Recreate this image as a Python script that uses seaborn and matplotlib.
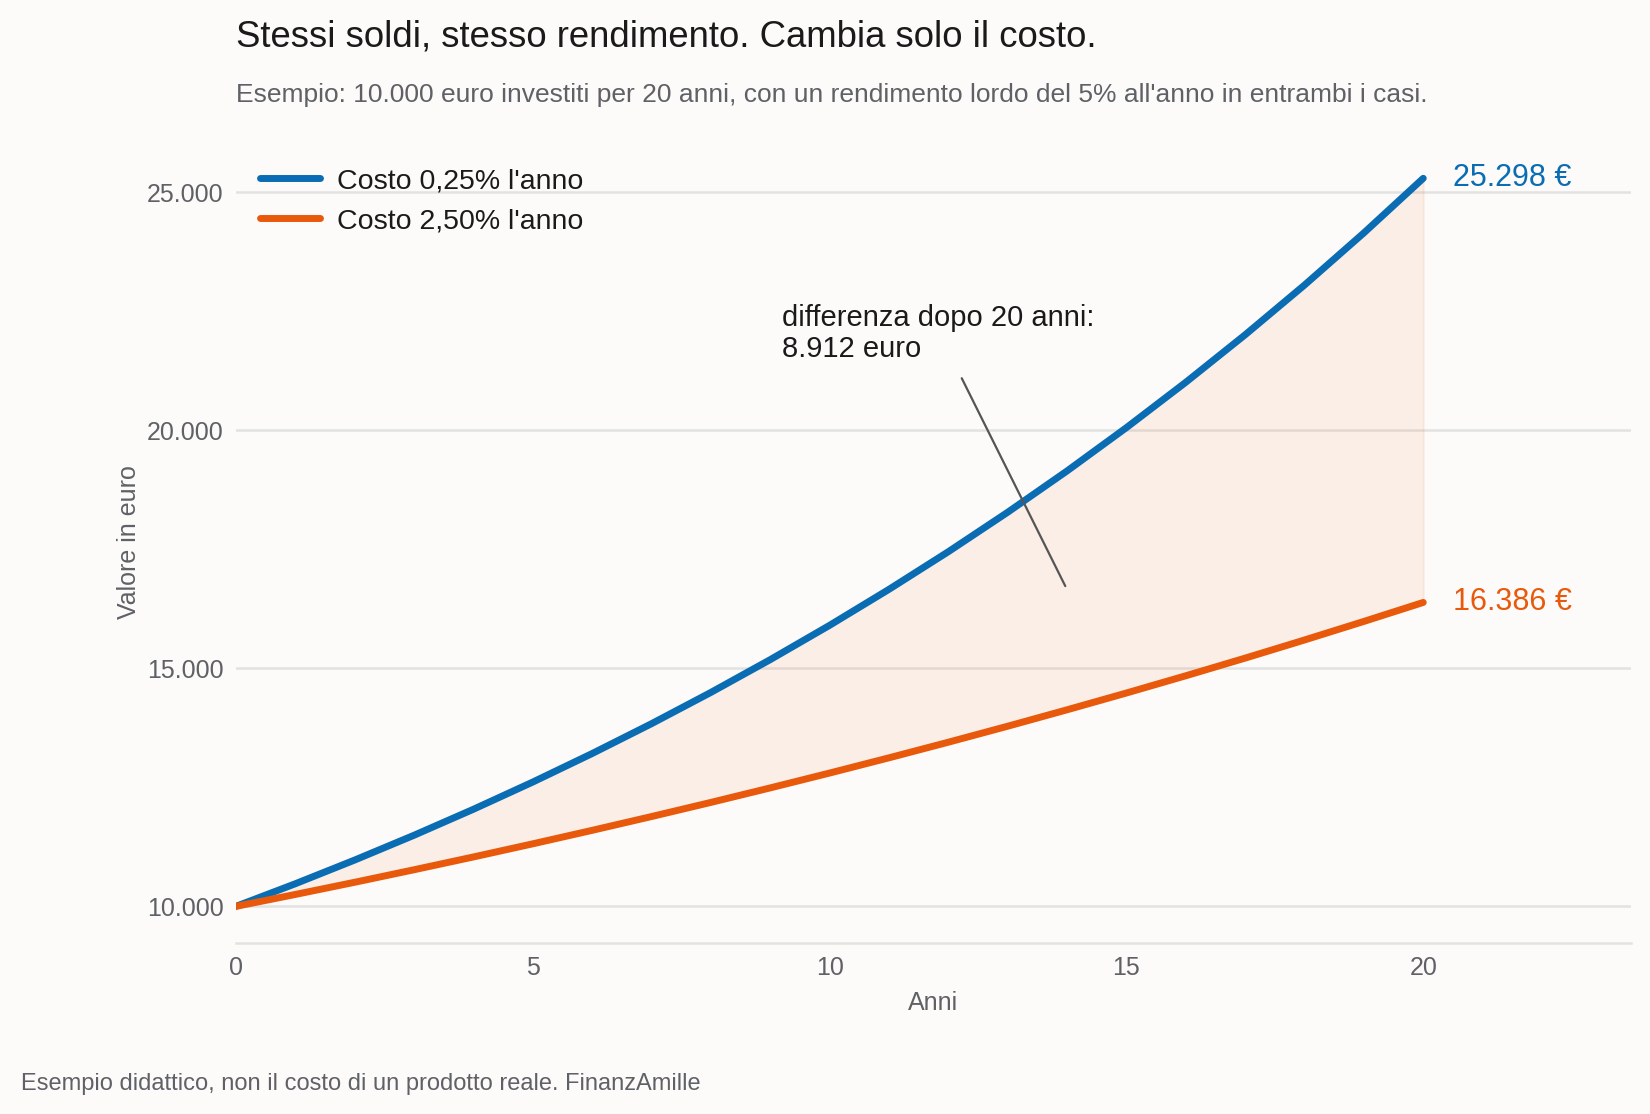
import numpy as np
import pandas as pd
import matplotlib
matplotlib.use("Agg")
import matplotlib.pyplot as plt
import seaborn as sns
from matplotlib.lines import Line2D
from matplotlib.ticker import FuncFormatter

# values (euro, end of each year)
anni = list(range(0, 21))
costo_basso = [10000, 10475, 10973, 11494, 12040, 12612, 13211, 13838, 14495, 15184,
               15905, 16661, 17452, 18281, 19149, 20059, 21012, 22010, 23055, 24151, 25298]
costo_alto = [10000, 10250, 10506, 10769, 11038, 11314, 11597, 11887, 12184, 12489,
              12801, 13121, 13449, 13785, 14130, 14483, 14845, 15216, 15597, 15987, 16386]
etichette = ["Costo 0,25% l'anno", "Costo 2,50% l'anno"]
y_ticks = [10000, 15000, 20000, 25000]
x_ticks = [0, 5, 10, 15, 20]

BG = "#fcfbf9"
BLUE = "#0a6db3"
ORANGE = "#e8590c"
GRID = "#e2e2e2"
TXT = "#1a1a1a"
MUTED = "#5f6166"

sns.set_theme(style="white")
plt.rcParams["font.family"] = ["Liberation Sans", "DejaVu Sans"]

df = pd.DataFrame({
    "Anni": anni * 2,
    "Valore": costo_basso + costo_alto,
    "Serie": [etichette[0]] * len(anni) + [etichette[1]] * len(anni),
})

fig = plt.figure(figsize=(16.5, 11.14), dpi=100, facecolor=BG)
ax = fig.add_axes([0.143, 0.1535, 0.8455, 0.719])
ax.set_facecolor(BG)

ax.fill_between(anni, costo_alto, costo_basso, color=ORANGE, alpha=0.08,
                linewidth=1.5, edgecolor=ORANGE)
sns.lineplot(data=df, x="Anni", y="Valore", hue="Serie",
             palette=[BLUE, ORANGE], linewidth=5, ax=ax, legend=False, zorder=3)

ax.set_xlim(0, 23.5)
ax.set_ylim(9230, 26060)
ax.set_xticks(x_ticks)
ax.set_yticks(y_ticks)
ax.yaxis.set_major_formatter(FuncFormatter(lambda v, p: f"{int(v):,}".replace(",", ".")))
ax.grid(axis="y", color=GRID, linewidth=1.8)
ax.grid(axis="x", visible=False)
for s in ["top", "right", "left"]:
    ax.spines[s].set_visible(False)
ax.spines["bottom"].set_color(GRID)
ax.spines["bottom"].set_linewidth(1.8)
ax.tick_params(axis="both", length=0, labelsize=18, labelcolor=MUTED, pad=9)
ax.set_xlabel("Anni", fontsize=18, color=MUTED, labelpad=8)
ax.set_ylabel("Valore in euro", fontsize=18, color=MUTED, labelpad=4)

# end labels
ax.text(20.5, costo_basso[-1], f"{costo_basso[-1]:,} €".replace(",", "."),
        color=BLUE, fontsize=22, va="center", ha="left")
ax.text(20.5, costo_alto[-1], f"{costo_alto[-1]:,} €".replace(",", "."),
        color=ORANGE, fontsize=22, va="center", ha="left")

# annotation
diff = costo_basso[-1] - costo_alto[-1]
ax.annotate(f"differenza dopo 20 anni:\n{diff:,} euro".replace(",", "."),
            xy=(13.97, 16730), xytext=(9.2, 22650),
            fontsize=21, color=TXT, va="top", ha="left", linespacing=1.1,
            arrowprops=dict(arrowstyle="-", color="#555555", lw=1.6,
                            shrinkA=10, shrinkB=0, relpos=(0.55, 0)))

handles = [Line2D([0], [0], color=BLUE, lw=5), Line2D([0], [0], color=ORANGE, lw=5)]
ax.legend(handles, etichette, loc="upper left", bbox_to_anchor=(-0.001, 0.9995),
          frameon=False, fontsize=20.5, handlelength=2.1, handletextpad=0.6,
          labelspacing=0.5, labelcolor=TXT)

fig.text(0.143, 0.967, "Stessi soldi, stesso rendimento. Cambia solo il costo.",
         fontsize=26.3, color=TXT, va="center", ha="left")
fig.text(0.143, 0.915,
         "Esempio: 10.000 euro investiti per 20 anni, con un rendimento lordo del 5% all'anno in entrambi i casi.",
         fontsize=19, color=MUTED, va="center", ha="left")
fig.text(0.0127, 0.0267, "Esempio didattico, non il costo di un prodotto reale. FinanzAmille",
         fontsize=17, color=MUTED, va="center", ha="left")

fig.savefig("out.png", dpi=100, facecolor=BG)
